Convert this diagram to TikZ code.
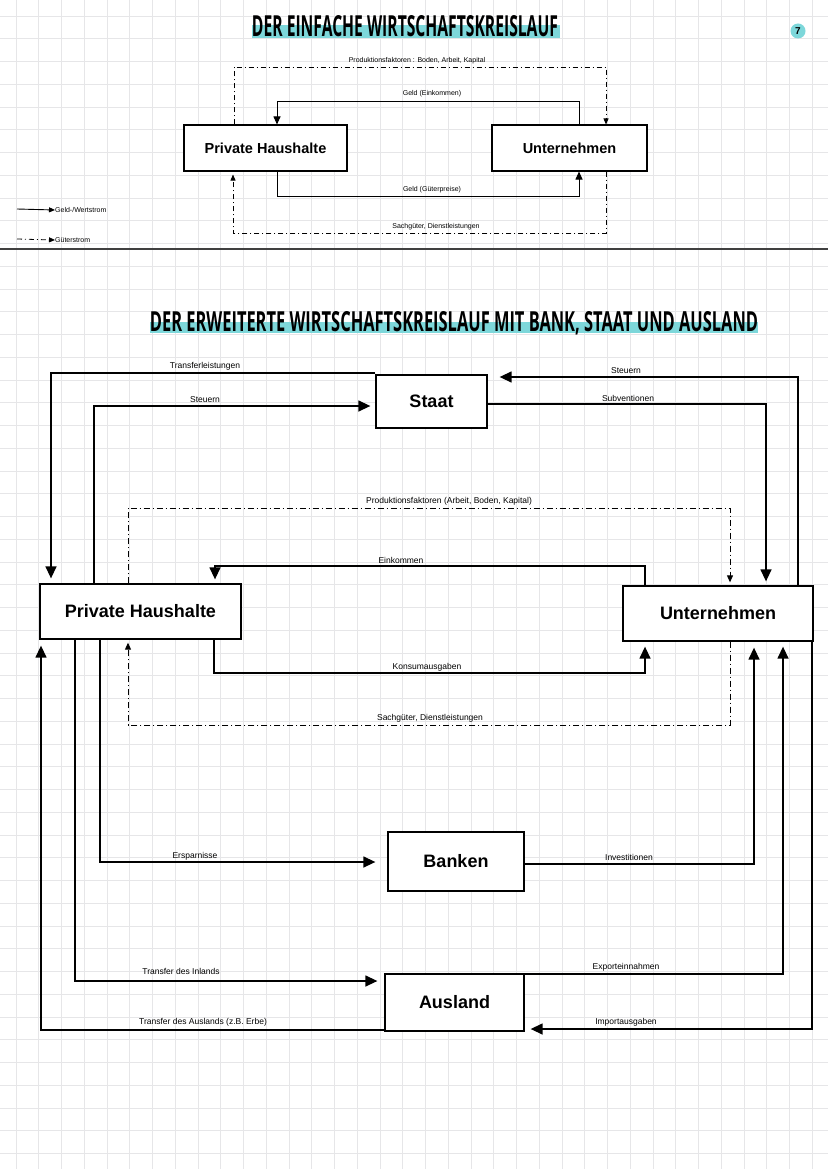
\documentclass[tikz,border=0pt]{standalone}
\usepackage{fontspec}
\usepackage{graphicx}
\setmainfont{Liberation Sans}
\newfontfamily\titlefont{Open Sans}
\usetikzlibrary{arrows.meta}
\definecolor{hl}{RGB}{125,215,218}
\definecolor{gridc}{RGB}{230,230,232}
\begin{document}
\begin{tikzpicture}[x=1pt,y=-1pt,
 box/.style={draw=black,line width=1.3pt,fill=white,inner sep=0pt},
 bigbox/.style={box,font=\fontsize{18}{20}\selectfont\bfseries},
 smallbox/.style={box,line width=1.1pt,font=\fontsize{14.5}{16}\selectfont\bfseries},
 money/.style={draw=black,line width=1.0pt,-{Triangle[length=8pt,width=7pt]}},
 money2/.style={draw=black,line width=1.4pt,-{Triangle[length=12pt,width=11pt]},shorten >=5pt},
 goods/.style={draw=black,line width=0.7pt,dash pattern=on 5pt off 3pt on 1pt off 3pt,-{Triangle[length=6pt,width=5pt]}},
 goods2/.style={draw=black,line width=0.9pt,dash pattern=on 6pt off 3pt on 1pt off 3pt,-{Triangle[length=7pt,width=6pt]},shorten >=3pt},
 tlab/.style={font=\fontsize{7}{8}\selectfont,inner sep=0pt},
 lab/.style={font=\fontsize{8.5}{9}\selectfont,inner sep=0pt},
 titlehl/.style={fill=hl}]
\useasboundingbox (0,0) rectangle (828,1169);
\fill[white] (0,0) rectangle (828,1169);
% grid
\foreach \i in {0,...,36} \draw[gridc,line width=0.8pt] ({16+\i*22.75},0) -- ({16+\i*22.75},1169);
\foreach \i in {0,...,51} \draw[gridc,line width=0.8pt] (0,{16+\i*22.75}) -- (828,{16+\i*22.75});

% ---------- top part ----------
\fill[titlehl] (252,25) rectangle (560,38);
\node[inner sep=0pt] (title1) at (405,26) {\resizebox{306pt}{21pt}{\titlefont\bfseries DER EINFACHE WIRTSCHAFTSKREISLAUF}};
\node[circle,fill=hl,inner sep=0pt,minimum size=15pt,font=\fontsize{10}{10}\selectfont\bfseries] (page) at (798,31) {7};

\node[smallbox,minimum width=163pt,minimum height=46pt] (ph1) at (265.5,148) {Private Haushalte};
\node[smallbox,minimum width=155pt,minimum height=46pt] (un1) at (569.5,148) {Unternehmen};

\draw[money] (un1.north -| 579,0) |- (277,102) -- (ph1.north -| 277,0);
\node[tlab] (l1) at (432,94) {Geld (Einkommen)};
\draw[money] (ph1.south -| 277,0) |- (579,197) -- (un1.south -| 579,0);
\node[tlab] (l2) at (432,190) {Geld (Güterpreise)};
\draw[goods] (ph1.north -| 234,0) -- (234,67) -- (606,67) -- (un1.north -| 606,0);
\node[tlab] (l3) at (417,61) {Produktionsfaktoren : Boden, Arbeit, Kapital};
\draw[goods,shorten >=3pt] (un1.south -| 606,0) -- (606,233) -- (233,233) -- (ph1.south -| 233,0);
\node[tlab] (l4) at (436,227) {Sachgüter, Dienstleistungen};

% legend
\coordinate (lg1) at (17,209);
\node[tlab,anchor=west] (lg1t) at (55,210) {Geld-/Wertstrom};
\draw[money,line width=0.9pt,-{Triangle[length=6pt,width=5pt]}] (lg1) -- (lg1t.west);
\coordinate (lg2) at (17,239);
\node[tlab,anchor=west] (lg2t) at (55,240) {Güterstrom};
\draw[goods,line width=0.8pt,-{Triangle[length=6pt,width=5pt]}] (lg2) -- (lg2t.west);

% separator
\draw[line width=1.6pt,black!75] (0,249) -- (828,249);

% ---------- bottom part ----------
\fill[titlehl] (150,322) rectangle (758,333);
\node[inner sep=0pt] (title2) at (454,323) {\resizebox{608pt}{20pt}{\titlefont\bfseries DER ERWEITERTE WIRTSCHAFTSKREISLAUF MIT BANK, STAAT UND AUSLAND}};

\node[bigbox,minimum width=201pt,minimum height=55pt] (ph2) at (140.5,611.5) {Private Haushalte};
\node[bigbox,minimum width=190pt,minimum height=55pt] (un2) at (718,613.5) {Unternehmen};
\node[bigbox,minimum width=111pt,minimum height=53pt] (staat) at (431.5,401.5) {Staat};
\node[bigbox,minimum width=136pt,minimum height=59pt] (banken) at (456,861.5) {Banken};
\node[bigbox,minimum width=139pt,minimum height=57pt] (ausland) at (454.5,1002.5) {Ausland};

% Staat flows
\draw[money2] (staat.north west |- 0,373) -| (ph2.north -| 51,0);
\node[lab] (b1) at (205,366) {Transferleistungen};
\draw[money2] (ph2.north -| 94,0) |- (staat.west |- 0,406);
\node[lab] (b2) at (205,400) {Steuern};
\draw[money2,shorten >=12pt] (un2.north -| 798,0) |- (staat.east |- 0,377);
\node[lab] (b3) at (626,371) {Steuern};
\draw[money2,shorten >=4pt] (staat.east |- 0,404) -| (un2.north -| 766,0);
\node[lab] (b4) at (628,398) {Subventionen};

% inner circuit
\draw[goods2] (ph2.north -| 128,0) |- (730,508) -- (un2.north -| 730,0);
\node[lab] (b5) at (449,501) {Produktionsfaktoren (Arbeit, Boden, Kapital)};
\draw[money2,shorten >=4pt] (un2.north -| 645,0) |- (215,566) -- (ph2.north -| 215,0);
\node[lab] (b6) at (401,560) {Einkommen};
\draw[money2] (ph2.south -| 214,0) |- (645,673) -- (un2.south -| 645,0);
\node[lab] (b7) at (427,667) {Konsumausgaben};
\draw[goods2] (un2.south -| 730,0) |- (128,725) -- (ph2.south -| 128,0);
\node[lab] (b8) at (430,718) {Sachgüter, Dienstleistungen};

% Banken
\draw[money2,shorten >=12pt] (ph2.south -| 100,0) |- (banken.west |- 0,862);
\node[lab] (b9) at (195,856) {Ersparnisse};
\draw[money2,shorten >=6pt] (banken.east |- 0,864) -| (un2.south -| 754,0);
\node[lab] (b10) at (629,857) {Investitionen};

% Ausland
\draw[money2,shorten >=7pt] (ph2.south -| 75,0) |- (ausland.west |- 0,981);
\node[lab] (b11) at (181,971) {Transfer des Inlands};
\draw[money2] (ausland.east |- 0,974) -| (un2.south -| 783,0);
\node[lab] (b12) at (626,967) {Exporteinnahmen};
\draw[money2,shorten >=6pt] (un2.south -| 812,0) |- (ausland.east |- 0,1029);
\node[lab] (b13) at (626,1022) {Importausgaben};
\draw[money2,shorten >=6pt] (ausland.west |- 0,1030) -| (ph2.south -| 41,0);
\node[lab] (b14) at (203,1022) {Transfer des Auslands (z.B. Erbe)};
\end{tikzpicture}
\end{document}
